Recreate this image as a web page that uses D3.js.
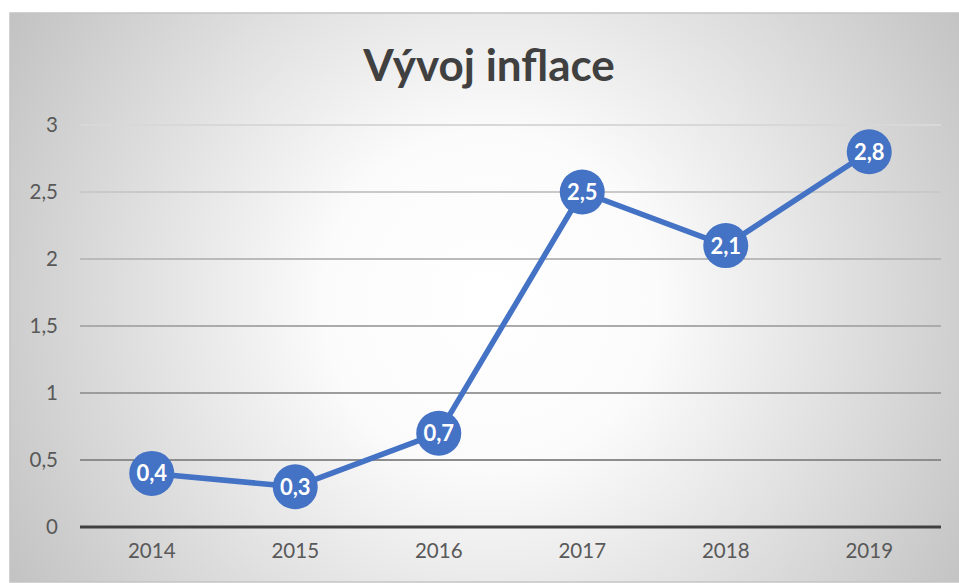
<!DOCTYPE html>
<html><head><meta charset="utf-8">
<script src="https://cdn.jsdelivr.net/npm/d3@7"></script>
<style>html,body{margin:0;padding:0;background:#fff;overflow:hidden}</style>
</head><body>
<svg id="c" width="959" height="583"></svg>
<script>
const title = "Vývoj inflace";
const categories = ["2014","2015","2016","2017","2018","2019"];
const values = [0.4, 0.3, 0.7, 2.5, 2.1, 2.8];
const yTicks = [0, 0.5, 1, 1.5, 2, 2.5, 3];

const fmt = v => String(v).replace(".", ",");
const FONT = "Lato, 'Open Sans', sans-serif";
const svg = d3.select("#c");
const W = 959, H = 583;
const m = {left: 80, right: 941, top: 125, bottom: 527};

const defs = svg.append("defs");
const rg = defs.append("radialGradient").attr("id","bg")
  .attr("gradientUnits","userSpaceOnUse").attr("cx",490).attr("cy",300).attr("r",560);
rg.append("stop").attr("offset","0").attr("stop-color","#ffffff");
rg.append("stop").attr("offset","0.3").attr("stop-color","#fbfbfb");
rg.append("stop").attr("offset","1").attr("stop-color","#c2c2c2");

svg.append("rect").attr("x",10).attr("y",13).attr("width",W+5).attr("height",H-13-1)
  .attr("fill","url(#bg)").attr("stroke","#c4c4c4").attr("stroke-width",1.5);

const x = d3.scaleBand().domain(categories).range([m.left, m.right]);
const y = d3.scaleLinear().domain([0, 3]).range([m.bottom, m.top]);

const gridCol = d3.scaleLinear().domain([0.5, 3]).range(["#8d8d8d", "#d8d8d8"]);

// gridlines
svg.append("g").selectAll("line").data(yTicks.filter(t => t > 0)).join("line")
  .attr("x1", m.left).attr("x2", m.right)
  .attr("y1", d => y(d)).attr("y2", d => y(d))
  .attr("stroke", d => gridCol(d)).attr("stroke-width", 2);

// y axis labels
const yAxis = svg.append("g").attr("transform", `translate(${m.left},0)`)
  .call(d3.axisLeft(y).tickValues(yTicks).tickFormat(fmt).tickSize(0).tickPadding(22));
yAxis.select(".domain").remove();
yAxis.selectAll("text").attr("font-family",FONT).attr("font-size",20.5)
  .attr("fill","#595959");

// baseline
svg.append("line").attr("x1", m.left).attr("x2", m.right)
  .attr("y1", y(0)).attr("y2", y(0)).attr("stroke","#404040").attr("stroke-width",3);

// x axis labels
const xAxis = svg.append("g").attr("transform", `translate(0,${m.bottom})`)
  .call(d3.axisBottom(x).tickSize(0).tickPadding(16));
xAxis.select(".domain").remove();
xAxis.selectAll("text").attr("font-family",FONT).attr("font-size",20.5)
  .attr("fill","#595959");

// title
svg.append("text").attr("x", 489).attr("y", 81).attr("text-anchor","middle")
  .attr("font-family",FONT).attr("font-weight","bold").attr("font-size",44)
  .attr("fill","#404040").text(title);

const pts = categories.map((c, i) => ({c, v: values[i]}));
const cx = d => x(d.c) + x.bandwidth() / 2;

svg.append("path").datum(pts)
  .attr("d", d3.line().x(cx).y(d => y(d.v)))
  .attr("fill","none").attr("stroke","#4472C4").attr("stroke-width",5.5)
  .attr("stroke-linejoin","round");

const g = svg.append("g").selectAll("g").data(pts).join("g")
  .attr("transform", d => `translate(${cx(d)},${y(d.v)})`);
g.append("circle").attr("r", 22.5).attr("fill","#4472C4");
g.append("text").attr("text-anchor","middle").attr("dy","0.36em")
  .attr("font-family",FONT).attr("font-weight","bold").attr("font-size",22)
  .attr("fill","#ffffff").text(d => fmt(d.v));
</script>
</body></html>
